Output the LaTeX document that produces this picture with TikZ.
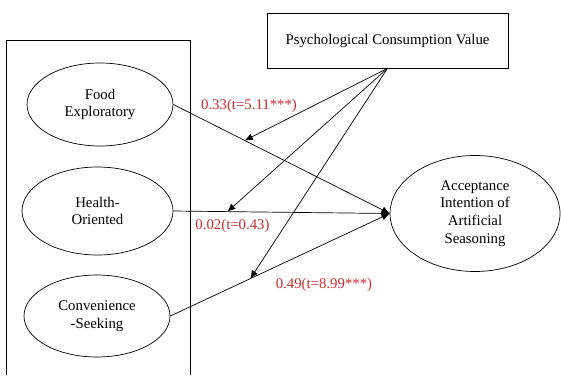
\documentclass[tikz,border=0pt]{standalone}
\usepackage{fontspec}
\setmainfont{Liberation Serif}
\usetikzlibrary{calc,arrows.meta,shapes.geometric}
\definecolor{lblred}{RGB}{205,45,45}
\begin{document}
\begin{tikzpicture}[x=1pt,y=-1pt,
  font=\fontsize{14.8}{17.8}\selectfont,
  oval/.style={draw,ellipse,inner sep=0pt,align=center,line width=0.7pt},
  lbl/.style={text=lblred,inner sep=0pt},
  conn/.style={line width=0.7pt,-{Latex[length=8pt,width=7pt]}}]
\useasboundingbox (0,0) rectangle (561,375);
\fill[white] (0,0) rectangle (561,375);
% left enclosing rectangle
\draw[line width=0.7pt] (6,375) -- (6,40) -- (190,40) -- (190,375);
% nodes
\node[oval,minimum width=146pt,minimum height=83pt] (food) at (100,104.5) {Food\\Exploratory};
\node[oval,minimum width=151pt,minimum height=88pt] (health) at (97.5,211) {Health-\\Oriented};
\node[oval,minimum width=146pt,minimum height=82pt] (conv) at (97,316) {Convenience\\-Seeking};
\node[oval,minimum width=170pt,minimum height=116pt] (acc) at (475,213.5) {Acceptance\\Intention of\\Artificial\\Seasoning};
\node[draw,line width=0.7pt,minimum width=241pt,minimum height=55pt,inner sep=0pt] (psy) at (387.5,40.5) {Psychological Consumption Value};
% main paths
\draw[conn] (food.east) -- (acc.west);
\draw[conn] (health.east) -- (acc.west);
\draw[conn] (conv.east) -- (acc.west);
% moderation targets
\coordinate (mf) at ($(food.east)!0.33!(acc.west)$);
\coordinate (mh) at ($(health.east)!0.25!(acc.west)$);
\coordinate (mc) at ($(conv.east)!0.365!(acc.west)$);
\draw[conn] (psy.south) -- (mf);
\draw[conn] (psy.south) -- (mh);
\draw[conn] (psy.south) -- (mc);
% labels
\node[lbl] (l1) at (249,106) {0.33(t=5.11***)};
\node[lbl] (l2) at (232.5,226) {0.02(t=0.43)};
\node[lbl] (l3) at (324,285) {0.49(t=8.99***)};
\end{tikzpicture}
\end{document}
